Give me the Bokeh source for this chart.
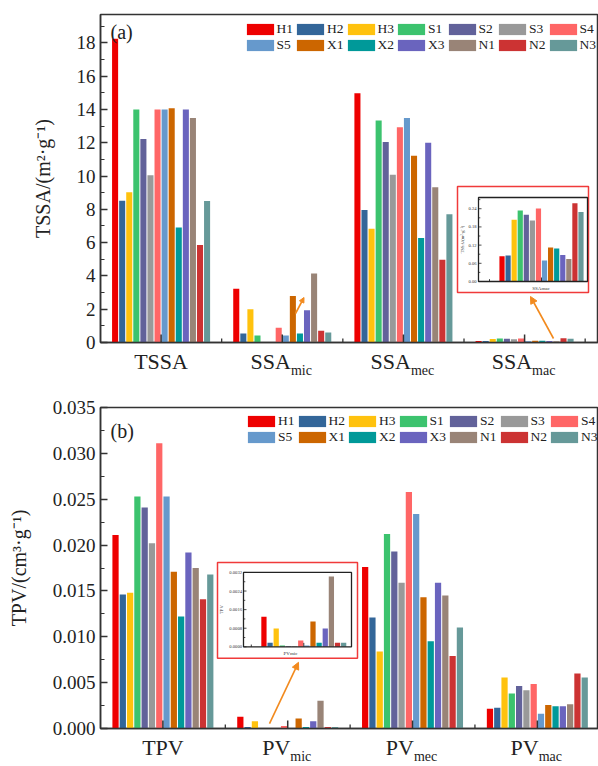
import math
from bokeh.plotting import figure
from bokeh.layouts import column
from bokeh.models import (Range1d, FixedTicker, PrintfTickFormatter, Legend, LegendItem,
                          Label, Arrow, NormalHead, ColumnDataSource, LinearAxis)
from bokeh.core.properties import value
from bokeh.embed import file_html
from bokeh.resources import INLINE

# ---------------- data ----------------
SERIES = ["H1", "H2", "H3", "S1", "S2", "S3", "S4", "S5", "X1", "X2", "X3", "N1", "N2", "N3"]
COLORS = ["#EE0000", "#336699", "#FFC20E", "#3CC36E", "#62629A", "#999999", "#FF6666",
          "#6699CC", "#CC6600", "#009999", "#6A64BE", "#998477", "#CC3333", "#669999"]

SSA_MAIN = ["TSSA", "SSA", "SSA", "SSA"]
SSA_SUB = ["", "mic", "mec", "mac"]
PV_MAIN = ["TPV", "PV", "PV", "PV"]
PV_SUB = ["", "mic", "mec", "mac"]

TSSA = [18.24, 8.52, 9.02, 13.99, 12.22, 10.04, 13.99, 13.99, 14.07, 6.91, 13.99, 13.49, 5.85, 8.50]
SSA_MIC = [3.23, 0.54, 2.00, 0.42, 0.02, 0.02, 0.88, 0.42, 2.80, 0.54, 1.94, 4.15, 0.70, 0.60]
SSA_MEC = [14.97, 7.96, 6.83, 13.33, 12.04, 10.08, 12.93, 13.49, 11.22, 6.27, 12.00, 9.32, 4.97, 7.70]
SSA_MAC = [0.083, 0.086, 0.204, 0.234, 0.220, 0.201, 0.241, 0.069, 0.112, 0.109, 0.087, 0.074, 0.258, 0.229]

TPV = [0.0211, 0.0146, 0.0148, 0.0253, 0.0241, 0.0202, 0.0311, 0.0253, 0.0171, 0.0122, 0.0192, 0.0175, 0.0141, 0.0168]
PV_MIC = [0.00129, 0.00017, 0.00079, 0.00006, 0.00002, 0.00002, 0.00027, 0.00006, 0.00109, 0.00017, 0.00079, 0.00303, 0.00017, 0.00017]
PV_MEC = [0.0176, 0.0121, 0.0084, 0.0212, 0.0193, 0.0159, 0.0258, 0.0234, 0.0143, 0.0095, 0.0159, 0.0145, 0.0079, 0.0110]
PV_MAC = [0.00214, 0.00225, 0.00557, 0.00382, 0.00464, 0.00418, 0.00486, 0.00160, 0.00257, 0.00243, 0.00243, 0.00264, 0.00600, 0.00557]

SSA_TICKS = [0, 2, 4, 6, 8, 10, 12, 14, 16, 18]
SSA_MINOR = [1, 3, 5, 7, 9, 11, 13, 15, 17, 19]
TPV_TICKS = [0.000, 0.005, 0.010, 0.015, 0.020, 0.025, 0.030, 0.035]
TPV_MINOR = [0.0025, 0.0075, 0.0125, 0.0175, 0.0225, 0.0275, 0.0325]

INSET_SSA_TICKS = [0.00, 0.06, 0.12, 0.18, 0.24]
INSET_SSA_LABELS = ["0.00", "0.06", "0.12", "0.18", "0.24"]
INSET_SSA_MINOR = [0.03, 0.09, 0.15, 0.21, 0.27]
INSET_PV_TICKS = [0.0000, 0.0008, 0.0016, 0.0024, 0.0032]
INSET_PV_LABELS = ["0.0000", "0.0008", "0.0016", "0.0024", "0.0032"]
INSET_PV_MINOR = [0.0004, 0.0012, 0.0020, 0.0028]

# ---------------- style ----------------
FONT = "Liberation Serif"
DARK = "#333333"
TXT = "#222222"
ORANGE = "#F28A1E"
REDBOX = "#F03A3A"
STEP = 0.0584
BAR_W = 0.05
CATS = [1, 2, 3, 4]
MINOR_X = [1.5, 2.5, 3.5, 4.5]
N = len(SERIES)
OFFS = [(i - (N - 1) / 2) * STEP for i in range(N)]
MAIN_PX = 22
SUB_PX = 14
FRAME_L, FRAME_R = 100, 598


def text_w(s, size):
    w = {"S": .556, "A": .722, "P": .556, "V": .722, "T": .611,
         "m": .778, "i": .278, "c": .444, "e": .444, "a": .444}
    return sum(w.get(ch, .5) for ch in s) * size


def inset_ranges(fl, fr, ft, fb, page_xc, xc, kx, page_y0, ky):
    xr = Range1d(xc + (fl - page_xc) / kx, xc + (fr - page_xc) / kx)
    yr = Range1d((page_y0 - fb) / ky, (page_y0 - ft) / ky)
    return xr, yr


def build(data, x_end, height, btop, bbot, frame_t, frame_b, y_end, yticks, yminor, yfmt,
          ylabel, tag, tag_base, mains, subs, legend_loc, inset):
    p = figure(width=598, height=height, x_range=Range1d(0.5, x_end), y_range=Range1d(0, y_end),
               output_backend="svg", toolbar_location=None, title=None,
               min_border_left=FRAME_L, min_border_right=0, min_border_top=btop,
               min_border_bottom=bbot)
    p.background_fill_color = "white"
    p.border_fill_color = "white"
    p.xgrid.visible = False
    p.ygrid.visible = False
    p.outline_line_color = DARK
    p.outline_line_width = 1.5

    kx = (FRAME_R - FRAME_L) / (x_end - 0.5)
    ky = (frame_b - frame_t) / y_end
    p.extra_x_ranges = {"px": Range1d(FRAME_L, FRAME_R)}
    p.extra_y_ranges = {"px": Range1d(frame_b, frame_t)}

    items = []
    for i, name in enumerate(SERIES):
        src = ColumnDataSource(dict(x=[c + OFFS[i] for c in CATS], top=[d[i] for d in data]))
        r = p.vbar(x="x", top="top", width=BAR_W, source=src, fill_color=COLORS[i], line_color=None)
        items.append(LegendItem(label=name, renderers=[r]))

    # x tick marks (inward) at the category centres and boundaries
    p.segment(x0=CATS, x1=CATS, y0=[0] * 4, y1=[8 / ky] * 4, line_color=DARK, line_width=1.5)
    p.segment(x0=MINOR_X, x1=MINOR_X, y0=[0] * 4, y1=[4 / ky] * 4, line_color=DARK, line_width=1.3)

    # category labels: main text axis + subscript axis
    main_ticks, main_over, sub_ticks, sub_over = [], {}, [], {}
    for c, m, s in zip(CATS, mains, subs):
        if s:
            mt = c - (text_w(s, SUB_PX) / 2 + 1) / kx
            st = c + (text_w(m, MAIN_PX) / 2 - 1) / kx
            sub_ticks.append(st)
            sub_over[st] = s
        else:
            mt = float(c)
        main_ticks.append(mt)
        main_over[mt] = m

    xa = p.xaxis[0]
    xa.ticker = FixedTicker(ticks=main_ticks, minor_ticks=[])
    xa.major_label_overrides = main_over
    xa.major_tick_in = 0
    xa.major_tick_out = 0
    xa.axis_line_color = DARK
    xa.axis_line_width = 1.5
    xa.major_label_standoff = 6
    xa.major_label_text_font = FONT
    xa.major_label_text_font_size = f"{MAIN_PX}px"
    xa.major_label_text_color = TXT

    xs = LinearAxis(ticker=FixedTicker(ticks=sub_ticks, minor_ticks=[]),
                    major_label_overrides=sub_over, axis_line_color=None,
                    major_tick_line_color=None, minor_tick_line_color=None,
                    major_tick_in=0, major_tick_out=0, major_label_standoff=-14,
                    major_label_text_font=FONT, major_label_text_font_size=f"{SUB_PX}px",
                    major_label_text_color=TXT)
    p.add_layout(xs, "below")

    ya = p.yaxis[0]
    ya.ticker = FixedTicker(ticks=yticks, minor_ticks=yminor)
    ya.formatter = PrintfTickFormatter(format=yfmt)
    ya.axis_line_color = DARK
    ya.axis_line_width = 1.5
    ya.major_tick_line_color = DARK
    ya.major_tick_line_width = 1.5
    ya.minor_tick_line_color = DARK
    ya.minor_tick_line_width = 1.2
    ya.major_tick_out = 0
    ya.minor_tick_out = 0
    ya.major_tick_in = 7
    ya.minor_tick_in = 4
    ya.major_label_text_font = FONT
    ya.major_label_text_font_size = "19px"
    ya.major_label_text_color = TXT
    ya.major_label_standoff = 5
    ya.axis_label = ylabel
    ya.axis_label_text_font = FONT
    ya.axis_label_text_font_size = "20px"
    ya.axis_label_text_font_style = "normal"
    ya.axis_label_text_color = TXT
    ya.axis_label_standoff = 20

    p.add_layout(Label(x=110, y=tag_base, x_range_name="px", y_range_name="px", text=tag,
                       text_align="left", text_baseline="alphabetic",
                       text_font=FONT, text_font_size="20px", text_color=TXT))

    legend = Legend(items=items, location=legend_loc, orientation="horizontal", ncols=7,
                    glyph_width=34, glyph_height=14, label_standoff=0, spacing=0, padding=0,
                    margin=0, label_text_font=FONT, label_text_font_size="13.5px",
                    label_text_color=TXT, label_height=12, label_width=16,
                    border_line_alpha=0, background_fill_alpha=0)
    p.add_layout(legend)

    # ---------- inset ----------
    ins = inset
    iky = (ins["B"] - ins["T"]) / ins["ytop"]
    ikx = ins["kx"]
    xr, yr = inset_ranges(FRAME_L, FRAME_R, frame_t, frame_b, ins["page_xc"], ins["cat"], ikx,
                          ins["B"], iky)
    p.extra_x_ranges["ix"] = xr
    p.extra_y_ranges["iy"] = yr
    rl, rr, rt, rb = ins["red"]
    p.quad(left=[rl], right=[rr], top=[rt], bottom=[rb], x_range_name="px", y_range_name="px",
           fill_color="white", line_color=REDBOX, line_width=1.5)
    u0 = ins["cat"] + (ins["L"] - ins["page_xc"]) / ikx
    u1 = ins["cat"] + (ins["R"] - ins["page_xc"]) / ikx
    p.vbar(x=[ins["cat"] + o for o in OFFS], top=ins["vals"], width=BAR_W, fill_color=COLORS,
           line_color=None, x_range_name="ix", y_range_name="iy")
    p.quad(left=[u0], right=[u1], top=[ins["ytop"]], bottom=[0], x_range_name="ix", y_range_name="iy",
           fill_color=None, line_color="#222222", line_width=1.3)
    yt = ins["yticks"]
    p.segment(x0=[u0] * len(yt), x1=[u0 + 3 / ikx] * len(yt), y0=yt, y1=yt, x_range_name="ix",
              y_range_name="iy", line_color="#222222", line_width=0.8)
    ym = ins["yminor"]
    p.segment(x0=[u0] * len(ym), x1=[u0 + 1.8 / ikx] * len(ym), y0=ym, y1=ym, x_range_name="ix",
              y_range_name="iy", line_color="#222222", line_width=0.8)
    xt = [ins["cat"], ins["cat"] - 0.5]
    p.segment(x0=xt, x1=xt, y0=[0, 0], y1=[4 / iky, 2.3 / iky], x_range_name="ix", y_range_name="iy",
              line_color="#222222", line_width=0.9)
    p.text(x=[u0 - ins["lab_gap"] / ikx] * len(yt), y=yt, text=ins["ylabels"], x_range_name="ix",
           y_range_name="iy", text_align="right", text_baseline="middle",
           text_font=value(FONT), text_font_size="4.6px", text_color=DARK)
    p.text(x=[u0 - ins["ylab_gap"] / ikx], y=[ins["ytop"] / 2], text=[ins["ylabel"]], angle=math.pi / 2,
           x_range_name="ix", y_range_name="iy", text_align="center", text_baseline="middle",
           text_font=value(FONT), text_font_size="4.6px", text_color=DARK)
    p.text(x=[ins["cat"] + (ins["xlab_x"] - ins["page_xc"]) / ikx], y=[-6.5 / iky], text=[ins["xlabel"]],
           x_range_name="ix", y_range_name="iy", text_align="center", text_baseline="middle",
           text_font=value(FONT), text_font_size="5px", text_color=DARK)

    for (x0, y0, x1, y1, sz) in ins["arrows"]:
        p.add_layout(Arrow(end=NormalHead(size=sz, fill_color=ORANGE, line_color=ORANGE),
                           x_start=x0, y_start=y0, x_end=x1, y_end=y1,
                           x_range_name="px", y_range_name="px",
                           line_color=ORANGE, line_width=1.6))
    return p


top_inset = dict(L=478, R=587, T=197, B=281, page_xc=541, cat=4, kx=104, ytop=0.277,
                 red=(457, 588, 186, 292), vals=SSA_MAC, yticks=INSET_SSA_TICKS,
                 ylabels=INSET_SSA_LABELS, yminor=INSET_SSA_MINOR, lab_gap=2, ylab_gap=16,
                 ylabel="TSSA/(m²·g⁻¹)", xlabel="SSAmac", xlab_x=540.5,
                 arrows=[(553, 338, 530, 296, 7), (295, 313, 303.5, 297, 5)])
bot_inset = dict(L=243, R=351, T=574, B=649.3, page_xc=303.3, cat=2, kx=105, ytop=0.0032,
                 red=(217, 357, 564, 661), vals=PV_MIC, yticks=INSET_PV_TICKS,
                 ylabels=INSET_PV_LABELS, yminor=INSET_PV_MINOR, lab_gap=1.5, ylab_gap=22,
                 ylabel="TPV", xlabel="PVmic", xlab_x=290,
                 arrows=[(269, 727, 298, 665, 7)])

# top figure: page y 0..384, frame 14..342 ; bottom figure: page y 384..766, frame 407..732
p1 = build([TSSA, SSA_MIC, SSA_MEC, SSA_MAC], 4.61, 384, 14, 42, 14, 342, 19.7,
           SSA_TICKS, SSA_MINOR, "%d", "TSSA/(m²·g⁻¹)", "(a)", 31, SSA_MAIN, SSA_SUB,
           (142.6, 288.8), top_inset)
p2 = build([TPV, PV_MIC, PV_MEC, PV_MAC], 4.49, 382, 23, 34, 407, 732, 0.035,
           TPV_TICKS, TPV_MINOR, "%.3f", "TPV/(cm³·g⁻¹)", "(b)", 431, PV_MAIN, PV_SUB,
           (144, 283.5), bot_inset)

layout = column(p1, p2)
open("out.html", "w").write(file_html(layout, INLINE))
